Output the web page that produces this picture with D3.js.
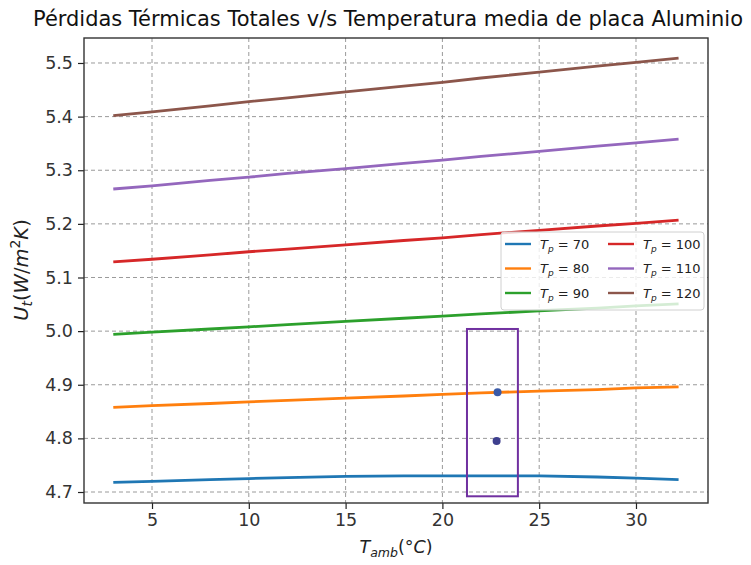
<!DOCTYPE html>
<html><head><meta charset="utf-8">
<script src="https://cdn.jsdelivr.net/npm/d3@7"></script>
<style>body{margin:0;background:#fff;} svg{display:block;font-family:"DejaVu Sans",sans-serif;}</style>
</head><body>
<script>
const tamb = [3, 5, 8, 10, 12, 15, 18, 20, 22, 25, 28, 30, 32.2];
const tp70  = [4.718, 4.720, 4.723, 4.725, 4.727, 4.729, 4.730, 4.730, 4.730, 4.730, 4.728, 4.726, 4.723];
const tp80  = [4.858, 4.861, 4.865, 4.868, 4.871, 4.875, 4.879, 4.882, 4.885, 4.888, 4.891, 4.894, 4.896];
const tp90  = [4.994, 4.998, 5.004, 5.008, 5.012, 5.018, 5.024, 5.028, 5.032, 5.038, 5.043, 5.047, 5.051];
const tp100 = [5.129, 5.134, 5.142, 5.148, 5.153, 5.161, 5.169, 5.174, 5.180, 5.188, 5.196, 5.201, 5.207];
const tp110 = [5.265, 5.271, 5.281, 5.287, 5.294, 5.303, 5.313, 5.319, 5.326, 5.335, 5.345, 5.351, 5.358];
const tp120 = [5.402, 5.409, 5.420, 5.428, 5.435, 5.446, 5.457, 5.464, 5.472, 5.483, 5.494, 5.501, 5.509];
const seriesNames = ["70", "80", "90", "100", "110", "120"];
const seriesColors = ["#1f77b4", "#ff7f0e", "#2ca02c", "#d62728", "#9467bd", "#8c564b"];
const xTicks = [5, 10, 15, 20, 25, 30];
const yTicks = [4.7, 4.8, 4.9, 5.0, 5.1, 5.2, 5.3, 5.4, 5.5];
const pointsX = [22.85, 22.8];
const pointsY = [4.886, 4.795];
const pointColors = ["#3a5aa8", "#3e3f8e"];
const boxX = [21.27, 23.9];
const boxY = [4.692, 5.004];

const W = 751, H = 565;
const L = 84, R = 708, T = 38, B = 503;
const x = d3.scaleLinear().domain([1.487, 33.72]).range([L, R]);
const y = d3.scaleLinear().domain([4.6795, 5.5466]).range([B, T]);

const svg = d3.select("body").append("svg").attr("width", W).attr("height", H);

// grid
const grid = svg.append("g");
grid.selectAll(".gx").data(xTicks).join("line")
  .attr("x1", d => x(d)).attr("x2", d => x(d)).attr("y1", T).attr("y2", B)
  .attr("stroke", "#9a9a9a").attr("stroke-width", 1).attr("stroke-dasharray", "4,3");
grid.selectAll(".gy").data(yTicks).join("line")
  .attr("y1", d => y(d)).attr("y2", d => y(d)).attr("x1", L).attr("x2", R)
  .attr("stroke", "#9a9a9a").attr("stroke-width", 1).attr("stroke-dasharray", "4,3");

// axes
const xAxis = d3.axisBottom(x).tickValues(xTicks).tickFormat(d3.format("d")).tickSize(6).tickPadding(5);
const yAxis = d3.axisLeft(y).tickValues(yTicks).tickFormat(d3.format(".1f")).tickSize(6).tickPadding(5);
const gx = svg.append("g").attr("transform", `translate(0,${B})`).call(xAxis);
const gy = svg.append("g").attr("transform", `translate(${L},0)`).call(yAxis);
[gx, gy].forEach(g => {
  g.select(".domain").remove();
  g.selectAll(".tick line").attr("stroke", "#222").attr("stroke-width", 1.2);
  g.selectAll(".tick text").attr("fill", "#333").attr("font-size", 17.5).attr("font-family", "DejaVu Sans");
});

// lines
const allSeries = [tp70, tp80, tp90, tp100, tp110, tp120];
const line = d3.line().x((d, i) => x(tamb[i])).y(d => y(d));
svg.append("g").selectAll("path").data(allSeries).join("path")
  .attr("d", d => line(d)).attr("fill", "none")
  .attr("stroke", (d, i) => seriesColors[i]).attr("stroke-width", 2.8);

// points
svg.append("g").selectAll("circle").data(pointsX).join("circle")
  .attr("cx", d => x(d)).attr("cy", (d, i) => y(pointsY[i])).attr("r", 4)
  .attr("fill", (d, i) => pointColors[i]);

// rectangle
svg.append("rect")
  .attr("x", x(boxX[0])).attr("y", y(boxY[1]))
  .attr("width", x(boxX[1]) - x(boxX[0])).attr("height", y(boxY[0]) - y(boxY[1]))
  .attr("fill", "none").attr("stroke", "#7030a0").attr("stroke-width", 2);

// frame
svg.append("rect").attr("x", L).attr("y", T).attr("width", R - L).attr("height", B - T)
  .attr("fill", "none").attr("stroke", "#333").attr("stroke-width", 1.4);

// legend
const lg = svg.append("g");
lg.append("rect").attr("x", 501).attr("y", 232).attr("width", 203).attr("height", 78)
  .attr("rx", 3).attr("fill", "#fff").attr("fill-opacity", 0.8)
  .attr("stroke", "#d0d0d0").attr("stroke-width", 1);
const order = [0, 1, 2, 3, 4, 5];
order.forEach(i => {
  const col = Math.floor(i / 3), row = i % 3;
  const hx = col === 0 ? 505 : 608;
  const ly = 244 + row * 24.5;
  lg.append("line").attr("x1", hx).attr("x2", hx + 26).attr("y1", ly).attr("y2", ly)
    .attr("stroke", seriesColors[i]).attr("stroke-width", 2.4);
  const t = lg.append("text").attr("x", hx + 35).attr("y", ly + 4.5)
    .attr("font-size", 13).attr("fill", "#222");
  t.append("tspan").attr("font-style", "italic").text("T");
  t.append("tspan").attr("font-style", "italic").attr("font-size", 9).attr("dy", 3).text("p");
  t.append("tspan").attr("dy", -3).text(" = " + seriesNames[i]);
});

// title
svg.append("text").attr("x", 388).attr("y", 26).attr("text-anchor", "middle")
  .attr("font-size", 21).attr("fill", "#111")
  .attr("textLength", 710).attr("lengthAdjust", "spacingAndGlyphs")
  .text("Pérdidas Térmicas Totales v/s Temperatura media de placa Aluminio");

// x label
const xl = svg.append("text").attr("x", 396).attr("y", 553).attr("text-anchor", "middle")
  .attr("font-size", 17.5).attr("fill", "#222");
xl.append("tspan").attr("font-style", "italic").text("T");
xl.append("tspan").attr("font-style", "italic").attr("font-size", 12.5).attr("dy", 3.5).text("amb");
xl.append("tspan").attr("dy", -3.5).text("(°");
xl.append("tspan").attr("font-style", "italic").text("C");
xl.append("tspan").text(")");

// y label
const yl = svg.append("text").attr("transform", "translate(28,270) rotate(-90)").attr("text-anchor", "middle")
  .attr("font-size", 19.5).attr("fill", "#222");
yl.append("tspan").attr("font-style", "italic").text("U");
yl.append("tspan").attr("font-style", "italic").attr("font-size", 14).attr("dy", 4).text("t");
yl.append("tspan").attr("dy", -4).text("(");
yl.append("tspan").attr("font-style", "italic").text("W");
yl.append("tspan").text("/");
yl.append("tspan").attr("font-style", "italic").text("m");
yl.append("tspan").attr("font-size", 14).attr("dy", -8).text("2");
yl.append("tspan").attr("font-style", "italic").attr("dy", 8).text("K");
yl.append("tspan").text(")");
</script>
</body></html>
